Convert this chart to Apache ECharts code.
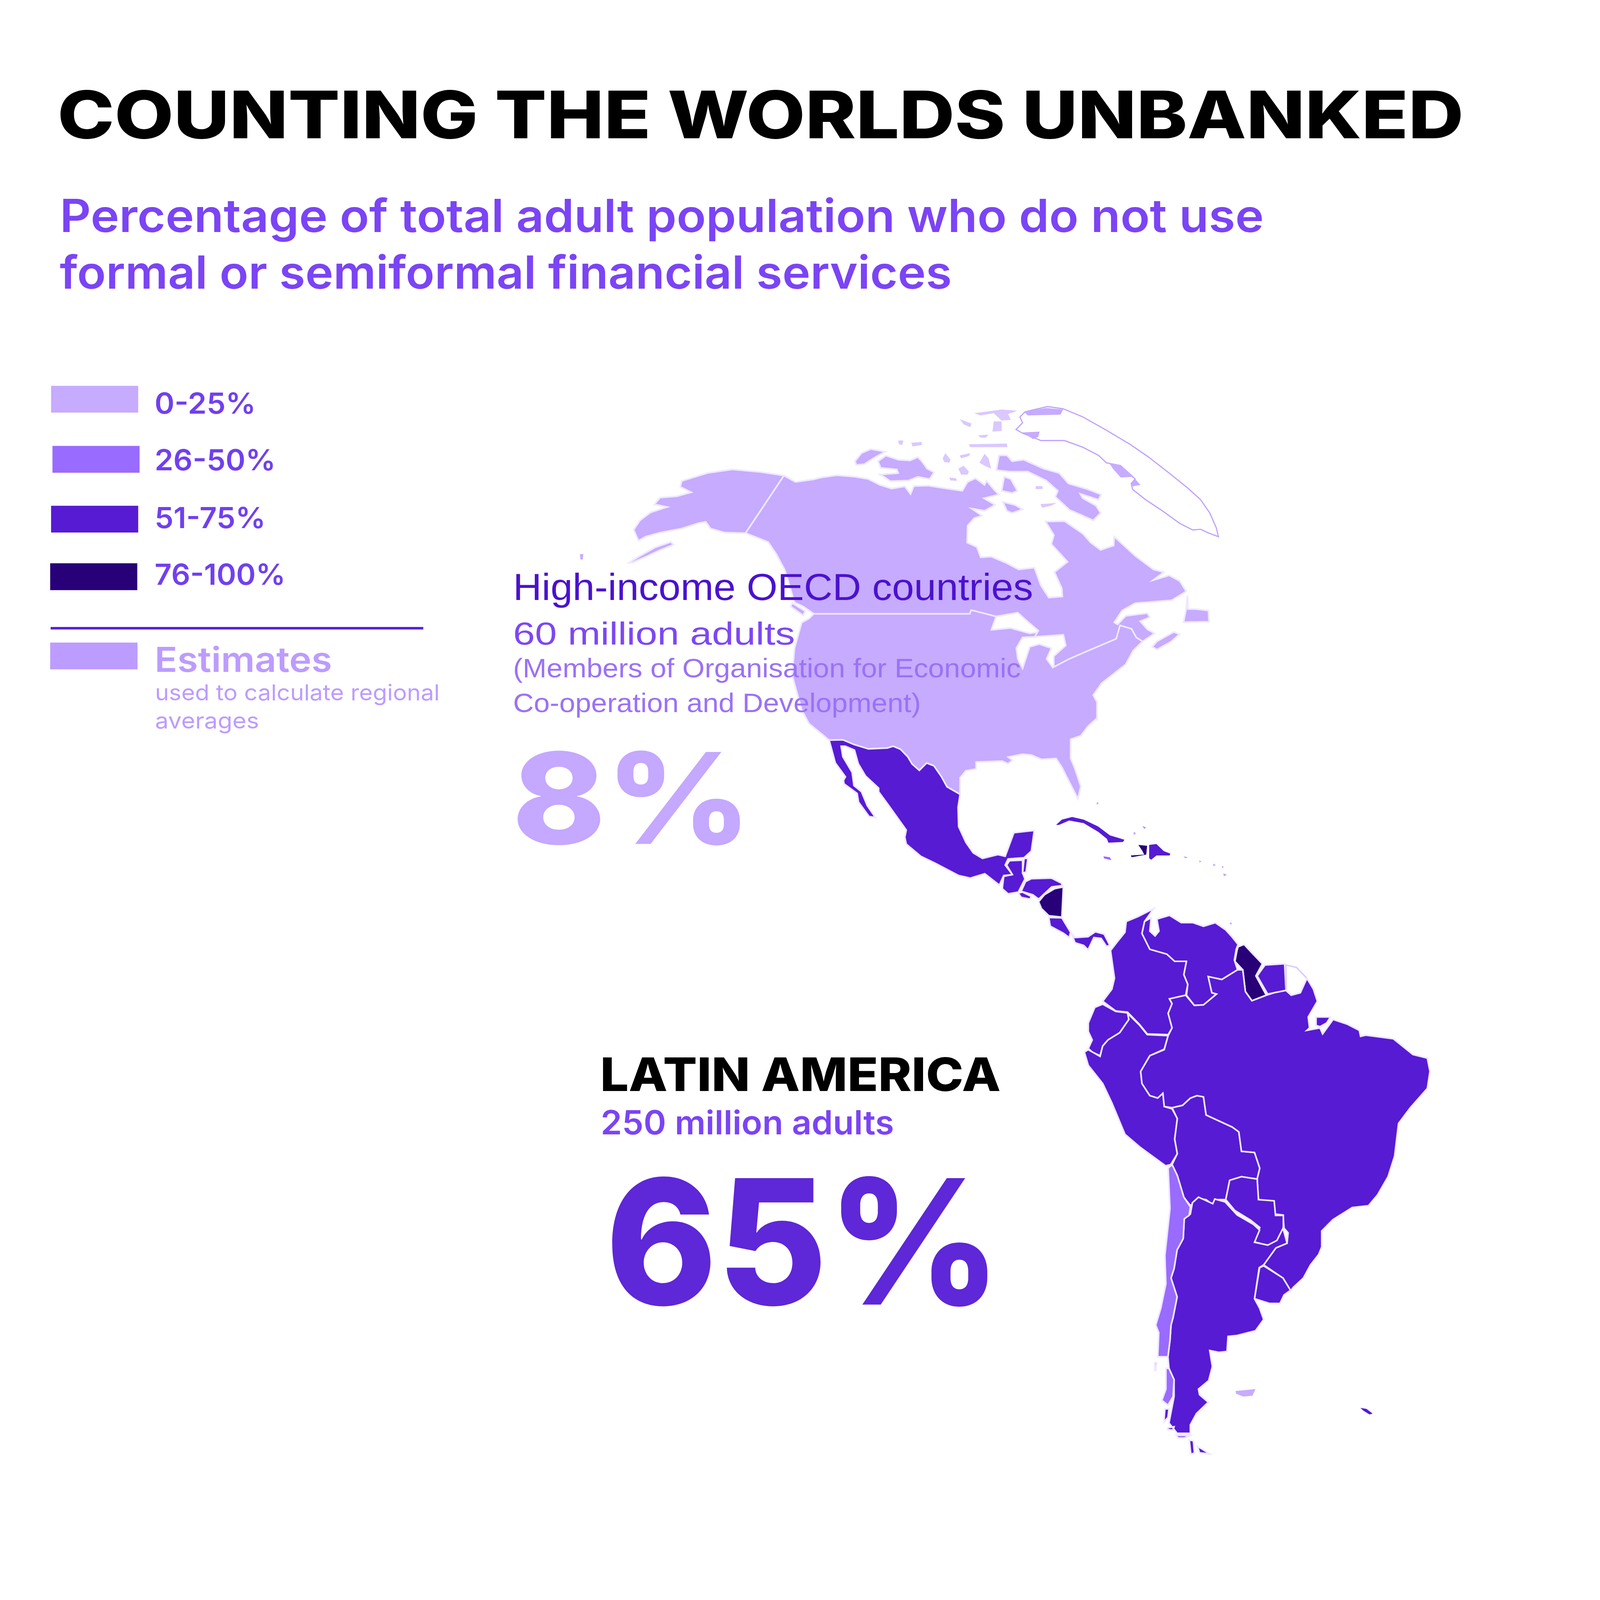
<!DOCTYPE html>
<html>
<head>
<meta charset="utf-8">
<title>Counting the worlds unbanked</title>
<script src="https://cdn.jsdelivr.net/npm/echarts@6/dist/echarts.min.js"></script>
<style>
  html, body { margin: 0; padding: 0; background: #fff; overflow: hidden; }
  #main { width: 100vw; height: 100vh; }
</style>
</head>
<body>
<div id="main"></div>
<script>
// bins of the legend
var binLabels = ['0-25%', '26-50%', '51-75%', '76-100%'];
var binMin = [0, 26, 51, 76];
var binMax = [25, 50, 75, 100];
var binColours = ['#C6ABFF', '#9A6BFF', '#561BD3', '#280078'];

// share of adults without formal or semiformal financial services
var regionNames = ['USA', 'Canada', 'Canadian Arctic', 'Greenland', 'Greenland coast', 'Hawaii',
  'Mexico', 'Guatemala', 'Belize', 'Honduras', 'El Salvador', 'Nicaragua', 'Costa Rica', 'Panama',
  'Cuba', 'Jamaica', 'Haiti', 'Dominican Republic', 'Caribbean islets',
  'Colombia', 'Venezuela', 'Guyana', 'Suriname', 'French Guiana', 'Ecuador', 'Peru', 'Bolivia',
  'Brazil', 'Paraguay', 'Uruguay', 'Argentina', 'Chile', 'Falkland Islands', 'South Georgia'];
var regionValues = [7, 3, 3, NaN, 4, 7,
  65, 70, 60, 70, 70, 80, 60, 60,
  70, 40, 85, 70, 40,
  60, 70, 85, 65, NaN, 65, 70, 70,
  57, 70, 60, 70, 40, 10, 60];
// too small to carry a white border
var noBorderRegions = ['Canadian Arctic', 'Greenland coast', 'Hawaii', 'Cuba', 'Jamaica', 'Haiti', 'Dominican Republic', 'Caribbean islets', 'Falkland Islands', 'South Georgia'];
// specks that fade out against the white in the picture
var paleRegions = ['Canadian Arctic', 'Caribbean islets'];

// the whole picture is laid out in a 7016 x 7592 frame and stretched to the window
var frameW = 7016;
var frameH = 7592;

// outlines were traced on enlarged sheets of the map, each with its own origin and scale
var S1 = [2200, 1800, 2.105, 1.2755];
var S2 = [3400, 3400, 1.2755, 0.829];
var S3 = [4600, 4200, 1.148, 1.148];
var S4 = [4800, 5600, 0.893, 0.893];
var S6 = [3600, 1880, 1.148, 0.7015];

function sheet(s, flat) {
  var pts = [];
  for (var i = 0; i < flat.length; i += 2) {
    pts.push([s[0] + flat[i] * s[2], s[1] + flat[i + 1] * s[3]]);
  }
  return pts;
}

var usMexico = sheet(S2, [185,135, 232,133, 270,160, 320,185, 385,180, 405,170, 430,187, 455,230, 470,272, 495,308, 520,266, 545,282, 570,342, 590,402, 635,445]);

var outlines = {
  'USA': [
    sheet(S1, [650,872, 975,872, 978,858, 1030,882, 1020,932, 1060,925, 1100,945, 1118,940, 1110,958, 1085,960, 1072,1000, 1075,1040, 1085,1075, 1100,995, 1120,985, 1145,1000, 1135,1040, 1148,1072, 1182,1040, 1218,1012, 1280,965, 1288,915, 1312,928, 1322,960, 1335,975, 1315,1010, 1300,1060, 1250,1130, 1232,1175, 1240,1200, 1240,1270])
      .concat(sheet(S2, [1105,10, 1075,55, 1050,110, 1015,130, 1015,240, 1030,300, 1050,400, 1040,470, 1000,340, 985,290, 965,240, 915,245, 880,220, 850,215, 800,232, 815,250, 800,270, 780,255, 690,260, 690,300, 655,310, 635,350]))
      .concat(usMexico.slice().reverse())
      .concat(sheet(S1, [640,1280, 625,1230, 605,1100, 610,1000, 625,905, 640,890])),
    // Alaska
    sheet(S1, [588,358, 540,345, 480,335, 430,348, 375,378, 372,400, 395,420, 365,435, 330,440, 318,465, 345,475, 310,495, 288,525, 275,560, 285,600, 300,585, 330,570, 375,555, 410,535, 425,530, 435,555, 465,570, 508,572]),
    sheet(S1, [352,605, 320,625, 290,655, 265,682, 272,682, 300,660, 330,635, 358,615])
  ],
  'Canada': [
    sheet(S1, [588,358, 612,382, 650,372])
      .concat(sheet(S6, [0,550, 60,535, 130,545, 180,560, 225,600, 270,625, 320,610, 342,662, 355,608, 410,605, 480,625, 540,640, 560,580, 590,555, 625,600, 632,572, 665,640, 680,665, 622,690, 665,735, 625,775, 575,760, 615,808, 585,825, 560,875, 558,990, 595,1020, 610,1090, 650,1085, 710,1130, 755,1172, 815,1160, 840,1280, 870,1362, 922,1355, 920,1300, 892,1190, 942,1120, 880,1000, 890,940, 858,848, 930,845, 1000,930, 1030,990, 1068,1040, 1118,1010, 1120,950, 1200,1080, 1270,1172, 1310,1190, 1268,1245, 1330,1212, 1370,1250, 1395,1320, 1340,1380, 1200,1400, 1150,1450, 1120,1530]))
      .concat(sheet(S1, [1283,912, 1300,880, 1345,870, 1350,885, 1330,900, 1345,930, 1360,945, 1335,975, 1322,960, 1312,928, 1288,915, 1280,965, 1218,1012, 1182,1040, 1150,1070, 1150,1030, 1175,990, 1170,950, 1110,958, 1118,935, 1095,900, 1075,868, 1030,882, 978,858, 975,872, 650,872, 628,845, 610,830, 590,710, 572,650, 555,605, 508,572])),
    // Baffin and the larger islands
    sheet(S6, [670,500, 680,400, 710,400, 730,440, 775,430, 850,490, 910,520, 945,590, 1020,630, 1070,665, 1060,700, 990,660, 1000,690, 1050,740, 1068,790, 1040,840, 990,800, 950,770, 895,680, 905,640, 860,570, 790,510, 720,510]),
    sheet(S6, [218,440, 248,402, 295,430, 340,435, 370,412, 385,440, 405,490, 432,515, 415,560, 370,545, 335,570, 265,575, 240,545, 225,530, 295,520, 290,495, 228,485]),
    sheet(S6, [130,440, 155,385, 190,358, 245,375, 200,420, 165,460, 135,465]),
    sheet(S6, [690,640, 700,545, 725,560, 750,640, 730,655]),
    sheet(S6, [695,715, 740,735, 770,765, 730,790, 710,775]),
    sheet(S6, [1400,1350, 1402,1440, 1430,1440, 1480,1450, 1482,1525, 1385,1528, 1395,1440]),
    sheet(S1, [1355,995, 1365,975, 1400,940, 1412,948, 1395,975, 1365,1005]),
    sheet(S1, [605,832, 632,862, 628,878, 602,845])
  ],
  'Canadian Arctic': [
    sheet(S6, [490,550, 515,555, 520,572, 495,570]),
    sheet(S6, [525,490, 545,470, 565,510, 560,530, 535,530]),
    sheet(S6, [465,420, 475,385, 495,430, 490,450, 470,445]),
    sheet(S6, [530,400, 570,385, 565,405, 535,420]),
    sheet(S6, [605,450, 625,390, 640,420, 650,490, 625,470]),
    sheet(S6, [820,608, 846,608, 846,628, 820,628]),
    sheet(S6, [838,730, 900,722, 880,740, 845,755]),
    sheet(S6, [295,300, 315,300, 310,330, 298,325]),
    sheet(S6, [345,315, 385,310, 385,330, 350,340]),
    sheet(S6, [565,325, 710,320, 712,345, 570,345]),
    sheet(S6, [530,155, 575,185, 570,210, 545,190]),
    sheet(S6, [600,265, 640,260, 630,280, 610,280]),
    sheet(S6, [660,170, 690,170, 690,235, 655,240]),
    sheet(S6, [585,115, 630,105, 690,90, 750,98, 715,120, 725,160, 690,165, 660,115, 610,130])
  ],
  'Greenland': [
    sheet(S6, [865,70, 925,85, 1000,140, 1090,230, 1180,325, 1250,410, 1330,520, 1400,620, 1450,700, 1485,790, 1510,890, 1518,950, 1480,925, 1450,900, 1420,905, 1370,860, 1300,770, 1240,700, 1190,630, 1185,590, 1200,560, 1140,470, 1090,450, 1060,400, 1000,345, 930,300, 840,300, 770,250, 745,225, 770,180, 760,140, 780,105])
  ],
  'Greenland coast': [
    sheet(S6, [775,105, 860,80, 925,90, 915,125, 790,130]),
    sheet(S6, [770,245, 835,240, 830,275, 810,290]),
    sheet(S6, [1100,450, 1145,465, 1195,545, 1145,550, 1115,490]),
    sheet(S6, [1185,590, 1200,560, 1220,600, 1190,610])
  ],
  'Hawaii': [sheet(S1, [163,650, 170,650, 169,670, 164,670])],
  'Mexico': [
    usMexico
      .concat(sheet(S2, [628,520, 630,630, 655,720, 680,780, 712,812, 765,790, 790,800, 820,665, 890,652, 880,770, 855,808, 800,815, 790,850, 815,905, 785,910, 770,965, 720,900, 670,925, 630,910, 550,840, 500,800, 450,730, 445,690, 450,650, 390,510, 355,430, 355,410, 310,340, 285,270, 272,192, 240,170, 226,170, 232,230, 264,320, 270,395, 296,430, 316,510, 344,578, 322,572, 286,490, 281,440, 236,385, 234,365, 241,345, 206,265]))
  ],
  'Guatemala': [sheet(S2, [805,825, 850,822, 850,895, 858,930, 835,1005, 800,1015, 780,985, 785,915, 815,905, 795,850])],
  'Belize': [sheet(S2, [855,812, 868,812, 862,890, 850,895])],
  'Honduras': [sheet(S2, [860,945, 880,928, 950,925, 985,955, 985,968, 950,975, 905,1045, 885,1020, 845,1000])],
  'El Salvador': [sheet(S2, [835,1010, 850,1005, 880,1030, 875,1045, 845,1035])],
  'Nicaragua': [sheet(S2, [905,1060, 925,1020, 960,985, 990,975, 985,1148, 940,1140, 915,1100])],
  'Costa Rica': [sheet(S2, [940,1150, 985,1152, 1015,1235, 1010,1265, 990,1240, 945,1200])],
  'Panama': [sheet(S2, [1018,1240, 1030,1265, 1075,1260, 1100,1232, 1130,1245, 1150,1310, 1138,1315, 1120,1270, 1095,1265, 1075,1335, 1060,1310, 1030,1295])],
  'Cuba': [sheet(S2, [965,620, 985,590, 1020,575, 1060,590, 1110,630, 1150,680, 1200,705, 1195,718, 1145,722, 1140,700, 1110,660, 1060,610, 1010,595, 975,620])],
  'Jamaica': [sheet(S2, [1128,800, 1150,805, 1155,822, 1130,812])],
  'Haiti': [sheet(S2, [1248,735, 1278,740, 1275,790, 1225,805, 1222,795, 1268,790, 1262,770])],
  'Dominican Republic': [sheet(S2, [1285,735, 1310,730, 1335,770, 1358,785, 1355,795, 1310,795, 1292,820, 1285,810])],
  'Caribbean islets': [
    sheet(S2, [1105,490, 1112,495, 1105,505]),
    sheet(S2, [1262,625, 1275,635, 1268,645]),
    sheet(S2, [1232,660, 1240,668, 1232,678]),
    sheet(S2, [1403,800, 1418,805, 1410,812]),
    sheet(S2, [1458,822, 1464,830, 1458,836]),
    sheet(S2, [1505,842, 1514,850, 1506,856]),
    sheet(S2, [1535,855, 1542,862, 1536,868]),
    sheet(S2, [1540,898, 1552,905, 1542,914]),
    sheet(S3, [690,155, 698,155, 695,165])
  ],
  'Colombia': [sheet(S3, [400,97, 340,130, 295,150, 290,195, 260,235, 235,270, 250,385, 240,430, 205,480, 255,520, 300,525, 345,575, 375,615, 455,618, 470,590, 455,530, 470,490, 460,470, 522,455, 530,410, 515,370, 525,315, 480,315, 450,285, 385,265, 355,200, 365,150])],
  'Venezuela': [sheet(S3, [365,150, 390,135, 385,190, 405,210, 420,190, 412,140, 460,125, 505,155, 550,155, 590,170, 635,155, 675,185, 700,215, 722,245, 715,265, 708,310, 720,350, 660,390, 608,378, 622,445, 640,450, 590,495, 555,497, 525,455, 530,410, 515,370, 525,315, 480,315, 450,285, 385,265, 355,200])],
  'Guyana': [sheet(S3, [722,255, 745,245, 775,280, 815,325, 790,375, 830,455, 775,478, 750,440, 740,350, 710,315, 718,270])],
  'Suriname': [sheet(S3, [825,330, 900,325, 905,435, 860,445, 835,450, 795,375])],
  'French Guiana': [sheet(S3, [905,330, 945,340, 985,385, 960,445, 925,455, 905,435])],
  'Ecuador': [sheet(S3, [175,505, 205,492, 255,522, 300,528, 305,555, 270,610, 225,640, 205,665, 195,705, 165,690, 150,675, 165,640, 150,605, 150,570])],
  'Peru': [sheet(S3, [300,530, 345,578, 375,618, 455,622, 440,678, 385,705, 350,770, 355,820, 385,870, 415,880, 435,860, 440,915, 470,925, 490,965, 480,1050, 490,1110, 465,1155, 445,1160, 350,1085, 290,1030, 240,900, 205,820, 150,745, 135,690, 150,680, 195,708, 205,665, 225,640, 270,610, 305,555])],
  'Bolivia': [sheet(S3, [470,920, 510,910, 540,880, 565,870, 590,875, 600,950, 700,1000, 725,1020, 735,1100, 785,1105, 805,1170, 795,1215, 735,1205, 690,1220, 675,1300, 640,1300, 625,1320, 600,1300, 570,1295, 540,1325, 515,1290, 490,1200, 470,1155, 490,1110, 480,1050, 490,965])],
  'Brazil': [
    sheet(S3, [985,385, 1010,430, 1025,480, 990,545, 995,590, 985,600, 1035,590, 1045,615, 1085,555, 1140,575, 1185,600, 1190,625, 1210,620, 1315,635, 1390,700, 1445,715, 1455,770, 1445,840, 1380,920, 1335,985, 1320,1120, 1295,1205, 1255,1280, 1220,1325])
      .concat(sheet(S4, [1350,135, 1265,145, 1170,210, 1115,270, 1115,355, 1100,395, 1060,450, 1025,520, 975,570, 962,590, 925,520, 830,450, 890,360, 945,335, 950,280, 930,255, 925,185, 885,180, 880,115, 800,105]))
      .concat(sheet(S3, [800,1300, 795,1215, 805,1170, 785,1105, 735,1100, 725,1020, 700,1000, 600,950, 590,875, 565,870, 540,880, 510,910, 470,920, 440,915, 435,860, 415,880, 385,870, 355,820, 350,770, 385,705, 440,680, 455,622, 470,590, 455,530, 470,490, 460,470, 522,455, 555,497, 590,495, 640,450, 622,445, 608,378, 660,390, 720,350, 740,350, 750,440, 775,478, 830,455, 860,445, 905,435, 925,455, 960,445])),
    // Marajo
    sheet(S3, [1020,545, 1075,545, 1060,570, 1035,585, 1020,580])
  ],
  'Paraguay': [sheet(S3, [690,1220, 735,1205, 795,1215, 800,1300, 860,1305, 865,1365, 895,1365, 895,1420, 880,1465, 840,1490, 785,1475, 805,1415, 770,1385, 710,1345, 675,1300])],
  'Uruguay': [sheet(S4, [810,465, 830,455, 925,520, 962,585, 930,610, 910,655, 860,655, 785,630])],
  'Argentina': [
    sheet(S4, [480,120, 510,90, 580,125, 590,100, 640,115, 700,185, 780,235, 810,265, 785,330, 850,345, 895,320, 925,255, 945,335, 890,360, 830,450, 808,465, 785,630, 810,680, 830,740, 790,800, 700,825, 655,830, 650,910, 610,915, 565,905, 578,990, 560,1065, 510,1110, 515,1140, 558,1180, 500,1240, 470,1300, 470,1345, 405,1345, 365,1290, 390,1150, 390,1060, 365,1000, 360,938, 370,850, 375,770, 385,730, 405,620, 375,520, 390,470, 405,370, 435,310, 440,205, 470,180]),
    sheet(S4, [465,1380, 485,1385, 490,1450, 472,1455]),
    sheet(S4, [505,1415, 530,1430, 565,1455, 515,1448]),
    sheet(S4, [345,1215, 365,1215, 360,1260, 340,1285]),
    sheet(S4, [360,1315, 390,1310, 385,1328, 358,1325])
  ],
  'Chile': [
    sheet(S3, [455,1170, 470,1155, 490,1200, 515,1290, 540,1330, 535,1365])
      .concat(sheet(S4, [440,205, 435,310, 405,370, 390,470, 375,520, 405,620, 385,730, 375,770, 370,850, 360,938, 310,938, 315,810, 300,770, 325,680, 350,550, 345,400, 370,150])),
    sheet(S4, [350,1000, 365,1000, 390,1060, 385,1150, 360,1195, 330,1170, 350,1110, 350,1040]),
    sheet(S4, [295,970, 305,970, 300,1010, 295,1010]),
    sheet(S4, [400,1355, 470,1355, 440,1370, 410,1370])
  ],
  'Falkland Islands': [sheet(S4, [692,1120, 790,1110, 775,1145, 730,1150, 695,1135])],
  'South Georgia': [sheet(S4, [1305,1210, 1335,1215, 1365,1240, 1350,1245, 1320,1225])]
};

var features = regionNames.map(function (name) {
  return {
    type: 'Feature',
    properties: { name: name },
    geometry: {
      type: 'MultiPolygon',
      coordinates: outlines[name].map(function (ring) { return [ring]; })
    }
  };
});
echarts.registerMap('americas', { type: 'FeatureCollection', features: features });

var myChart = echarts.init(document.getElementById('main'));
var kx = myChart.getWidth() / frameW;
var ky = myChart.getHeight() / frameH;

var mapData = regionNames.map(function (name, i) {
  var item = { name: name, value: regionValues[i] };
  if (name === 'Greenland') {
    item.itemStyle = { borderColor: '#BDA0FF', borderWidth: 5 * kx };
  } else if (name === 'French Guiana') {
    item.itemStyle = { borderColor: '#D9C8FF', borderWidth: 6 * kx };
  } else if (noBorderRegions.indexOf(name) >= 0) {
    item.itemStyle = { borderWidth: 0, opacity: paleRegions.indexOf(name) >= 0 ? 0.65 : 1 };
  }
  return item;
});

var uiFont = 'Inter';
var helvFont = '"Liberation Sans"';
var measure = document.createElement('canvas').getContext('2d');

// y is the baseline; zrender draws text on a middle baseline.
// fitW squeezes the run to the width it has in the picture, the fonts here are wider.
function label(text, x, baseline, size, weight, colour, font, fitW) {
  var family = font || uiFont;
  measure.font = weight + ' ' + size + 'px ' + family;
  return {
    type: 'text',
    x: x,
    y: baseline - size * 0.305,
    scaleX: fitW / measure.measureText(text).width,
    z: 20,
    silent: true,
    style: {
      text: text,
      x: 0,
      y: 0,
      fontFamily: family,
      fontSize: size,
      fontWeight: weight,
      fill: colour,
      align: 'left',
      verticalAlign: 'middle'
    }
  };
}

function box(x, y, w, h, colour) {
  return { type: 'rect', z: 20, silent: true, shape: { x: x, y: y, width: w, height: h }, style: { fill: colour } };
}

var legendLefts = [224, 230, 224, 220];
var legendTops = [1831, 2116, 2400, 2673];
var legendBaselines = [1964, 2233, 2506, 2776];
var legendWidths = [434, 521, 477, 564];

var graphics = [
  label('COUNTING THE WORLDS UNBANKED', 252, 657, 311, 800, '#000000', uiFont, 6166),
  label('Percentage of total adult population who do not use', 262, 1102, 216, 600, '#7B44F5', uiFont, 5280),
  label('formal or semiformal financial services', 262, 1371, 216, 600, '#7B44F5', uiFont, 3912),
  label('High-income OECD countries', 2250, 2852, 178, 400, '#4A12CE', helvFont, 2280),
  label('60 million adults', 2250, 3063, 152, 400, '#7D48F2', helvFont, 1236),
  label('(Members of Organisation for Economic', 2250, 3218, 128, 400, '#9B72F5', helvFont, 2226),
  label('Co-operation and Development)', 2250, 3382, 128, 400, '#9B72F5', helvFont, 1788),
  label('8%', 2245, 4007, 600, 800, '#C5A8FF', uiFont, 1050),
  label('LATIN AMERICA', 2632, 5178, 219, 800, '#000000', uiFont, 1756),
  label('250 million adults', 2634, 5383, 157, 600, '#7B44F5', uiFont, 1286),
  label('65%', 2655, 6194, 825, 800, '#5E27D8', uiFont, 1735)
];
binLabels.forEach(function (text, i) {
  graphics.push(box(legendLefts[i], legendTops[i], 382, 127, binColours[i]));
  graphics.push(label(text, 678, legendBaselines[i], 138, 600, '#7040F0', uiFont, legendWidths[i] + 10));
});
graphics.push(box(222, 2975, 1634, 12, '#5A20D8'));
graphics.push(box(220, 3049, 383, 127, '#BC9CFF'));
graphics.push(label('Estimates', 678, 3188, 163, 600, '#BC9CFF', uiFont, 778));
graphics.push(label('used to calculate regional', 680, 3324, 105, 400, '#BC9CFF', uiFont, 1248));
graphics.push(label('averages', 680, 3457, 105, 400, '#BC9CFF', uiFont, 456));

var option = {
  backgroundColor: '#ffffff',
  animation: false,
  visualMap: {
    type: 'piecewise',
    show: false,
    seriesIndex: 0,
    pieces: binLabels.map(function (text, i) {
      return { min: binMin[i], max: binMax[i], label: text, color: binColours[i] };
    }),
    outOfRange: { color: '#ffffff' }
  },
  series: [
    {
      type: 'map',
      map: 'americas',
      projection: {
        project: function (p) { return [p[0] * kx, p[1] * ky]; },
        unproject: function (p) { return [p[0] / kx, p[1] / ky]; }
      },
      boundingCoords: [[0, 0], [frameW, frameH]],
      left: 0,
      top: 0,
      right: 0,
      bottom: 0,
      roam: false,
      silent: true,
      selectedMode: false,
      label: { show: false },
      itemStyle: { areaColor: '#ffffff', borderColor: '#EFE8FF', borderWidth: 7 * kx },
      data: mapData
    }
  ],
  graphic: {
    elements: [{ type: 'group', x: 0, y: 0, scaleX: kx, scaleY: ky, children: graphics }]
  }
};
myChart.setOption(option);
</script>
</body>
</html>
